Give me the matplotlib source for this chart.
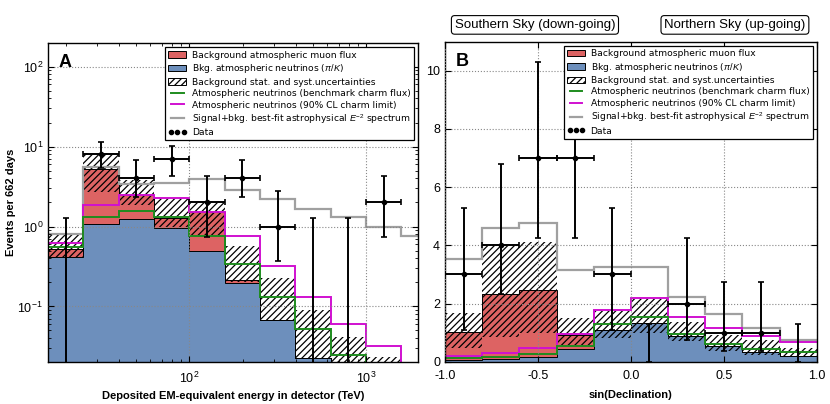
import numpy as np
import matplotlib
matplotlib.use("Agg")
import matplotlib.pyplot as plt
from matplotlib.patches import Patch
from matplotlib.lines import Line2D
import matplotlib.transforms as mtransforms

plt.rcParams['font.family'] = ['Liberation Sans', 'DejaVu Sans']
plt.rcParams['mathtext.fontset'] = 'custom'
plt.rcParams['mathtext.rm'] = 'Liberation Sans'
plt.rcParams['mathtext.it'] = 'Liberation Sans:italic'
plt.rcParams['mathtext.bf'] = 'Liberation Sans:bold'
plt.rcParams['hatch.linewidth'] = 0.9

# ---------------- Panel A: energy ----------------
energy_edges = [15.85, 25.12, 39.81, 63.10, 100.0, 158.5, 251.2, 398.1, 631.0, 1000.0, 1585.0, 2512.0]
nu_A = [0.415, 1.08, 1.24, 0.95, 0.50, 0.196, 0.068, 0.0227, 0.012, 0.006, 0.003]
mu_A = [0.115, 4.22, 1.21, 0.33, 1.01, 0.02, 0.0, 0.0, 0.0, 0.0, 0.0]
unc_lo_A = [0.41, 2.74, 1.87, 1.00, 0.79, 0.20, 0.068, 0.0227, 0.010, 0.005, 0.002]
unc_hi_A = [0.81, 8.2, 3.8, 2.27, 2.07, 0.57, 0.226, 0.091, 0.042, 0.023, 0.010]
charm_bench_A = [0.56, 1.31, 1.58, 1.31, 0.75, 0.34, 0.133, 0.052, 0.0245, 0.012, 0.006]
charm_lim_A = [0.63, 1.87, 2.49, 2.30, 1.54, 0.76, 0.32, 0.133, 0.060, 0.032, 0.015]
signal_A = [0.81, 5.5, 3.45, 3.5, 3.9, 2.88, 2.2, 1.65, 1.30, 1.0, 0.77]
data_A = [0, 8, 4, 7, 2, 4, 1, 0, 0, 2]
data_lo_A = [0, 5.32, 2.33, 4.25, 0.74, 2.33, 0.37, 0, 0, 0.74]
data_hi_A = [1.29, 11.4, 6.78, 10.3, 4.25, 6.78, 2.75, 1.29, 1.29, 4.25]

# ---------------- Panel B: declination ----------------
sindec_edges = [-1.0, -0.8, -0.6, -0.4, -0.2, 0.0, 0.2, 0.4, 0.6, 0.8, 1.0]
nu_B = [0.05, 0.08, 0.15, 0.43, 1.10, 1.32, 0.90, 0.55, 0.35, 0.20]
mu_B = [0.98, 2.25, 2.31, 0.50, 0.0, 0.0, 0.0, 0.0, 0.0, 0.0]
unc_lo_B = [0.46, 0.86, 1.00, 0.57, 0.80, 0.98, 0.72, 0.37, 0.23, 0.15]
unc_hi_B = [1.66, 3.97, 4.11, 1.49, 1.76, 2.15, 1.37, 0.92, 0.75, 0.48]
charm_bench_B = [0.12, 0.15, 0.25, 0.54, 1.28, 1.53, 0.95, 0.61, 0.44, 0.34]
charm_lim_B = [0.20, 0.29, 0.46, 0.94, 1.78, 2.18, 1.55, 1.17, 0.89, 0.67]
signal_B = [3.52, 4.60, 4.78, 3.15, 3.24, 3.24, 2.23, 1.63, 1.15, 0.75]
data_B = [3, 4, 7, 7, 3, 0, 2, 1, 1, 0]
data_lo_B = [1.10, 2.33, 4.25, 4.25, 1.10, 0, 0.74, 0.37, 0.37, 0]
data_hi_B = [5.30, 6.78, 10.3, 10.3, 5.30, 1.29, 4.25, 2.75, 2.75, 1.29]

legend_labels = [
    "Background atmospheric muon flux",
    "Bkg. atmospheric neutrinos ($\\pi/K$)",
    "Background stat. and syst.uncertainties",
    "Atmospheric neutrinos (benchmark charm flux)",
    "Atmospheric neutrinos (90% CL charm limit)",
    "Signal+bkg. best-fit astrophysical $E^{-2}$ spectrum",
    "Data",
]

RED = '#DD6363'
BLUE = '#6D8FBC'
GREEN = '#1E8C1E'
MAGENTA = '#D010D0'
GRAY = '#A0A0A0'

fig = plt.figure(figsize=(8.30, 4.04), dpi=100)
axA = fig.add_axes([48/830, 1-362.3/404, 370/830, 319/404])
axB = fig.add_axes([445/830, 1-361.7/404, 371.7/830, 320/404])


def draw_panel(ax, edges, nu, mu, lo, hi, cb, cl, sig, data, dlo, dhi, logx):
    edges = np.asarray(edges, float)
    nu = np.asarray(nu, float)
    mu = np.asarray(mu, float)
    base = 1e-4 if logx else 0.0
    ax.stairs(nu, edges, baseline=base, fill=True, color=BLUE, lw=0, zorder=1)
    ax.stairs(nu + mu, edges, baseline=nu, fill=True, color=RED, lw=0, zorder=1.1)
    ax.stairs(nu, edges, baseline=None, color='k', lw=0.7, zorder=1.2)
    ax.stairs(nu + mu, edges, baseline=None, color='k', lw=0.7, zorder=1.2)
    ax.stairs(np.asarray(hi), edges, baseline=np.asarray(lo), fill=True,
              facecolor='none', edgecolor='k', hatch='/////', lw=0, zorder=1.5)
    ax.stairs(sig, edges, baseline=None, color=GRAY, lw=1.6, zorder=2)
    ax.stairs(cl, edges, baseline=None, color=MAGENTA, lw=1.4, zorder=2.1)
    ax.stairs(cb, edges, baseline=None, color=GREEN, lw=1.4, zorder=2.2)

    n = len(data)
    left = edges[:n]
    right = edges[1:n+1]
    if logx:
        xc = np.sqrt(left * right)
    else:
        xc = 0.5 * (left + right)
    data = np.asarray(data, float)
    dlo = np.asarray(dlo, float)
    dhi = np.asarray(dhi, float)
    nz = data > 0
    ax.errorbar(xc[nz], data[nz], yerr=[data[nz] - dlo[nz], dhi[nz] - data[nz]],
                xerr=[xc[nz] - left[nz], right[nz] - xc[nz]],
                fmt='o', ms=3, color='k', ecolor='k', elinewidth=1.4,
                capsize=2.5, capthick=1.2, zorder=5)
    z = ~nz
    ax.errorbar(xc[z], data[z], yerr=[data[z] - dlo[z], dhi[z] - data[z]],
                fmt='none', ecolor='k', elinewidth=1.4,
                capsize=2.5, capthick=1.2, zorder=5)

    ax.grid(True, which='major', linestyle=':', color='#888888', lw=0.8)
    ax.set_axisbelow(False)
    ax.tick_params(which='both', direction='in', top=True, right=True, labelsize=9)
    ax.tick_params(which='major', length=4)
    ax.tick_params(which='minor', length=2)
    ax.tick_params(axis='x', which='both', pad=6)
    for s in ax.spines.values():
        s.set_linewidth(1.0)

    handles = [
        Patch(facecolor=RED, edgecolor='k', lw=0.7),
        Patch(facecolor=BLUE, edgecolor='k', lw=0.7),
        Patch(facecolor='white', edgecolor='k', hatch='/////', lw=0.7),
        Line2D([], [], color=GREEN, lw=1.4),
        Line2D([], [], color=MAGENTA, lw=1.4),
        Line2D([], [], color=GRAY, lw=1.6),
        Line2D([], [], color='k', marker='o', ms=3, ls='none'),
    ]
    leg = ax.legend(handles, legend_labels, loc='upper right',
                    prop=dict(family='DejaVu Sans', size=6.6),
                    numpoints=3, labelspacing=0.27, borderaxespad=0.45,
                    fancybox=False, framealpha=1, edgecolor='k',
                    handlelength=2.0, handletextpad=0.6, borderpad=0.35)
    leg.get_frame().set_linewidth(0.9)
    leg.set_zorder(10)


draw_panel(axA, energy_edges, nu_A, mu_A, unc_lo_A, unc_hi_A, charm_bench_A,
           charm_lim_A, signal_A, data_A, data_lo_A, data_hi_A, True)
axA.set_xscale('log')
axA.set_yscale('log')
axA.set_xlim(15.85, 1970)
axA.set_ylim(0.02, 196)
axA.set_xlabel('Deposited EM-equivalent energy in detector (TeV)', fontsize=8, fontweight='bold')
axA.set_ylabel('Events per 662 days', fontsize=8, fontweight='bold')
axA.xaxis.set_label_coords(0.5, -0.09)
axA.yaxis.set_label_coords(-0.086, 0.5)
axA.text(0.028, 0.965, 'A', transform=axA.transAxes, fontsize=13, fontweight='bold',
         va='top', ha='left', zorder=11)

draw_panel(axB, sindec_edges, nu_B, mu_B, unc_lo_B, unc_hi_B, charm_bench_B,
           charm_lim_B, signal_B, data_B, data_lo_B, data_hi_B, False)
axB.set_xlim(-1, 1)
axB.set_ylim(0, 11)
axB.set_xticks([-1.0, -0.5, 0.0, 0.5, 1.0])
axB.set_xticklabels(['-1.0', '-0.5', '0.0', '0.5', '1.0'])
axB.set_yticks([0, 2, 4, 6, 8, 10])
axB.set_xlabel('sin(Declination)', fontsize=8, fontweight='bold')
axB.xaxis.set_label_coords(0.5, -0.09)
axB.text(0.028, 0.965, 'B', transform=axB.transAxes, fontsize=13, fontweight='bold',
         va='top', ha='left', zorder=11)

trans = mtransforms.blended_transform_factory(axB.transData, axB.transAxes)
box = dict(boxstyle='round,pad=0.25', fc='white', ec='k', lw=0.8)
axB.text(-0.516, 1.0525, 'Southern Sky (down-going)', transform=trans, ha='center',
         va='center', fontsize=9.5, bbox=box, clip_on=False)
axB.text(0.56, 1.0525, 'Northern Sky (up-going)', transform=trans, ha='center',
         va='center', fontsize=9.5, bbox=box, clip_on=False)

fig.savefig('out.png', dpi=100)
